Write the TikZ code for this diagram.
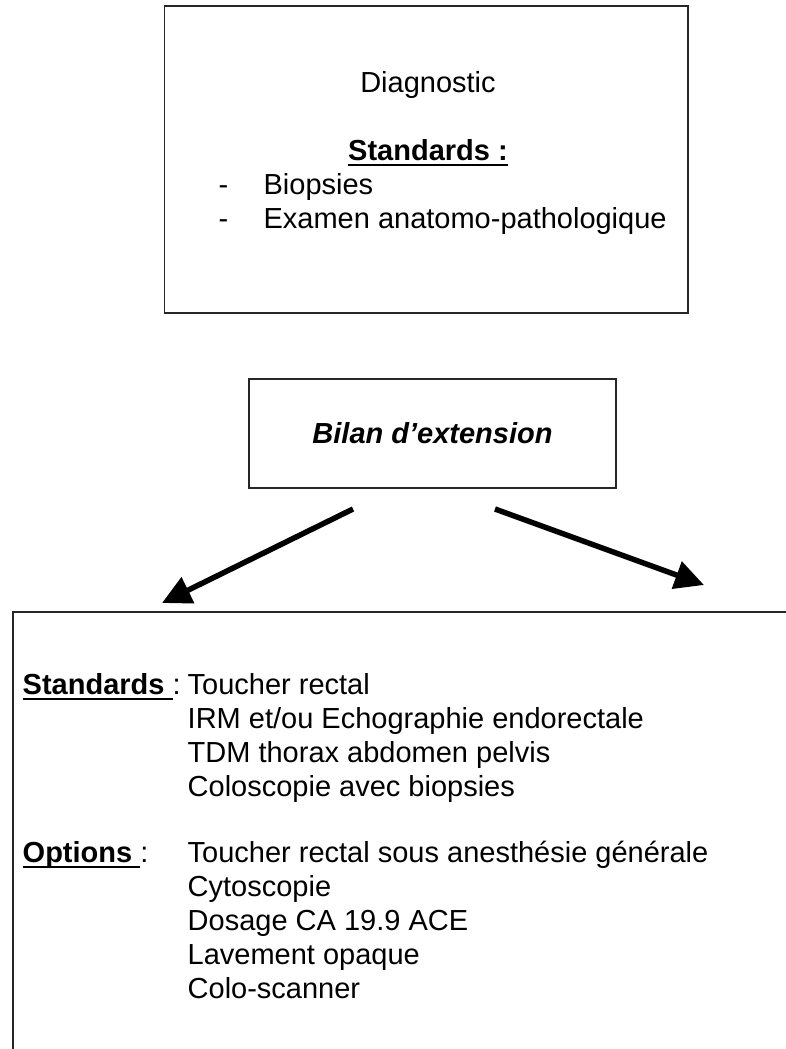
\documentclass[tikz,border=0pt]{standalone}
\usepackage{fontspec}
\setmainfont{Liberation Sans}
\usetikzlibrary{arrows.meta}
% underline a piece of text with a 2pt rule a few points below the baseline
\newcommand\ulbox[1]{\setbox0=\hbox{#1}\rlap{\vrule height -4pt depth 6pt width \wd0}\box0}
\begin{document}
\begin{tikzpicture}[x=1pt,y=-1pt,
  box/.style={draw=black!85, line width=1.8pt, rectangle, inner sep=0pt},
  txt/.style={inner sep=0pt, anchor=base west, font=\fontsize{29}{34}\selectfont},
  ctxt/.style={txt, anchor=base},
  flow/.style={line width=5.5pt, -{Triangle[length=29pt,width=28pt]}}]
\clip (0,0) rectangle (786,1049);

% diagnostic box
\node[box, minimum width=523.5pt, minimum height=307pt] (diag) at (426.25,159.5) {};
\node[ctxt] (diagtitle) at (428,92.5) {Diagnostic};
\node[ctxt] (diagstd) at (428,160) {\ulbox{\bfseries Standards :}};
\node[ctxt] (dash1) at (223.5,194) {-};
\node[txt] (biop) at (263.4,194) {Biopsies};
\node[ctxt] (dash2) at (223.5,228) {-};
\node[txt] (anapath) at (263.4,228) {Examen anatomo-pathologique};

% staging box
\node[box, minimum width=367pt, minimum height=109pt,
      font=\fontsize{29}{34}\selectfont\bfseries\itshape] (bilan) at (432.5,433.5) {Bilan d’extension};

% large results box, running off the page
\node[box, anchor=north west, minimum width=820pt, minimum height=480pt] (ext) at (12,611) {};

% arrows
\coordinate (l0) at (353,509);
\coordinate (l1) at (162,603);
\coordinate (r0) at (495,509);
\coordinate (r1) at (704,585);
\draw[flow] (l0) -- (l1);
\draw[flow] (r0) -- (r1);

% contents of the results box
\node[txt] (stdlab) at (22.5,694) {\ulbox{\bfseries Standards\ }:};
\node[txt] (optlab) at (22.5,862) {\ulbox{\bfseries Options\ }:};
\foreach \t [count=\i] in {Toucher rectal, IRM et/ou Echographie endorectale,
    TDM thorax abdomen pelvis, Coloscopie avec biopsies}
  \node[txt] (std\i) at (187.5,{660+34*\i}) {\t};
\foreach \t [count=\i] in {Toucher rectal sous anesthésie générale, Cytoscopie,
    Dosage CA 19.9 ACE, Lavement opaque, Colo-scanner}
  \node[txt] (opt\i) at (187.5,{828+34*\i}) {\t};
\end{tikzpicture}
\end{document}
